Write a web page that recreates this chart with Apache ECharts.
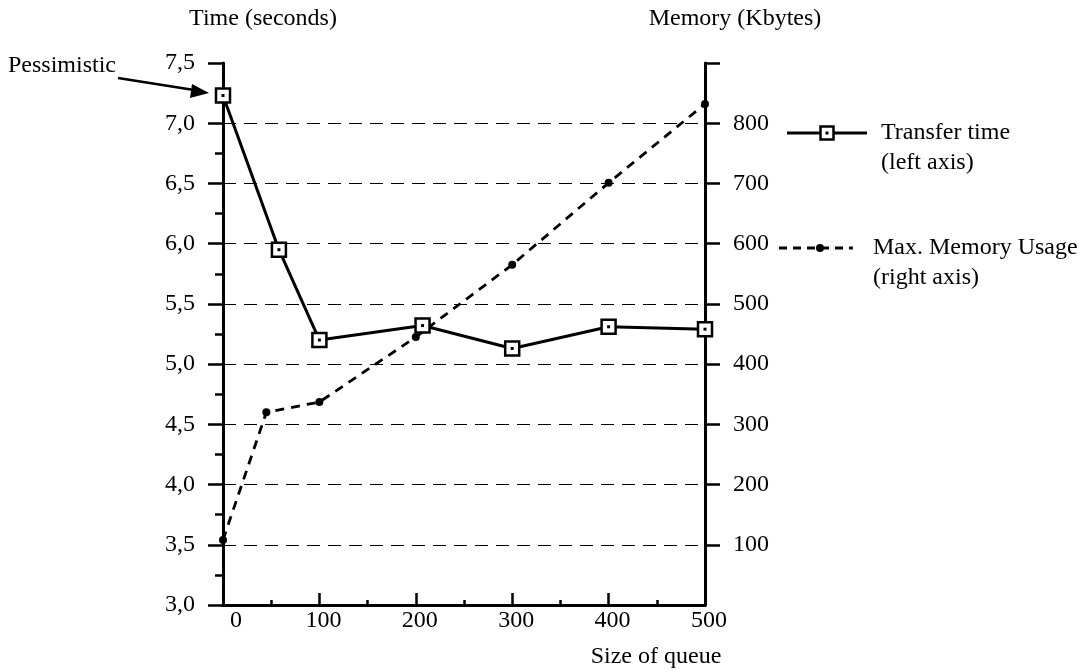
<!DOCTYPE html>
<html>
<head>
<meta charset="utf-8">
<script src="https://cdn.jsdelivr.net/npm/echarts@6.0.0/dist/echarts.min.js"></script>
<style>
	html,body{margin:0;padding:0;background:#fff;}
	#chart_main{width:1083px;height:672px;}
</style>
</head>
<body>
<div id="chart_main"></div>
<script>
	// data: [size of queue, value]
	var transferTime = [[0, 7.23], [58, 5.95], [100, 5.2], [207, 5.32], [300, 5.13], [400, 5.31], [500, 5.29]];
	var memoryUsage = [[0, 108], [45, 320], [100, 337], [200, 445], [300, 565], [400, 701], [500, 832]];
	var timeTicks = [3, 3.5, 4, 4.5, 5, 5.5, 6, 6.5, 7, 7.5];
	var memoryTicks = [100, 200, 300, 400, 500, 600, 700, 800, 900];
	var memoryLabels = [100, 200, 300, 400, 500, 600, 700, 800];

	var FONT = '"Liberation Serif", "Times New Roman", serif';
	var myChart = echarts.init(document.getElementById('chart_main'));

	var option = {
		animation: false,
		backgroundColor: '#fff',
		textStyle: {fontFamily: FONT, color: '#000'},
		grid: {
			left: 223,
			right: 378,
			top: 63,
			bottom: 67,
			outerBoundsMode: 'none'
		},
		xAxis: {
			type: 'value',
			min: 0,
			max: 500,
			interval: 100,
			name: 'Size of queue',
			nameLocation: 'middle',
			nameGap: 40,
			nameMoveOverlap: false,
			nameTextStyle: {
				fontFamily: FONT, fontSize: 24, color: '#000',
				padding: [0, 0, 0, 384]
			},
			axisLine: {lineStyle: {color: '#000', width: 3}},
			axisTick: {inside: true, length: 12, lineStyle: {color: '#000', width: 2.5}},
			minorTick: {show: true, splitNumber: 2, length: 5, lineStyle: {color: '#000', width: 2.5}},
			axisLabel: {
				margin: 4,
				fontFamily: FONT,
				fontSize: 24,
				color: '#000',
				padding: [0, 0, 0, 8],
				formatter: function (v) {
					return v === 0 ? '{z|0}' : String(v);
				},
				rich: {
					z: {fontFamily: FONT, fontSize: 24, color: '#000', padding: [0, 0, 0, 18]}
				}
			},
			splitLine: {show: false}
		},
		yAxis: [
			{
				type: 'value',
				position: 'left',
				min: timeTicks[0],
				max: timeTicks[timeTicks.length - 1],
				interval: 0.5,
				name: 'Time (seconds)',
				nameLocation: 'end',
				nameGap: 32,
				nameTextStyle: {
					fontFamily: FONT, fontSize: 24, color: '#000',
					align: 'center', padding: [0, 0, 0, 80]
				},
				axisLine: {show: true, lineStyle: {color: '#000', width: 3}},
				axisTick: {show: true, length: 15, lineStyle: {color: '#000', width: 2.5}},
				minorTick: {show: true, splitNumber: 2, length: 8, lineStyle: {color: '#000', width: 2.5}},
				axisLabel: {
					margin: 28,
					fontFamily: FONT,
					fontSize: 24,
					color: '#000',
					formatter: function (v) {
						return v.toFixed(1).replace('.', ',');
					}
				},
				splitLine: {
					show: true,
					showMinLine: false,
					showMaxLine: false,
					lineStyle: {color: '#000', width: 1, type: [13, 8]}
				}
			},
			{
				type: 'value',
				position: 'right',
				min: 0,
				max: 900,
				interval: 100,
				name: 'Memory (Kbytes)',
				nameLocation: 'end',
				nameGap: 32,
				nameTextStyle: {
					fontFamily: FONT, fontSize: 24, color: '#000',
					align: 'center', padding: [0, 0, 0, 60]
				},
				axisLine: {show: true, lineStyle: {color: '#000', width: 3}},
				axisTick: {show: true, length: 15, customValues: memoryTicks, lineStyle: {color: '#000', width: 2.5}},
				axisLabel: {
					margin: 28,
					fontFamily: FONT,
					fontSize: 24,
					color: '#000',
					customValues: memoryLabels
				},
				splitLine: {show: false}
			}
		],
		series: [
			{
				name: 'Max. Memory Usage',
				type: 'line',
				yAxisIndex: 1,
				data: memoryUsage,
				symbol: 'circle',
				symbolSize: 8,
				itemStyle: {color: '#000'},
				lineStyle: {color: '#000', width: 2.8, type: [9, 7]},
				z: 2
			},
			{
				name: 'Transfer time',
				type: 'line',
				yAxisIndex: 0,
				data: transferTime,
				symbol: 'rect',
				symbolSize: 14,
				itemStyle: {color: '#fff', borderColor: '#000', borderWidth: 2.5},
				lineStyle: {color: '#000', width: 3},
				z: 3
			},
			{
				// centre dot of the square markers
				name: 'Transfer time',
				type: 'line',
				yAxisIndex: 0,
				data: transferTime,
				symbol: 'rect',
				symbolSize: 3,
				itemStyle: {color: '#000'},
				lineStyle: {width: 0, opacity: 0},
				z: 4
			}
		],
		graphic: [
			// Pessimistic arrow
			{type: 'text', left: 8, top: 54, style: {text: 'Pessimistic', font: '24px ' + FONT, fill: '#000'}},
			{type: 'line', shape: {x1: 118, y1: 78, x2: 194, y2: 90}, style: {stroke: '#000', lineWidth: 2.5}},
			{type: 'polygon', shape: {points: [[209, 93], [192, 84], [190, 98]]}, style: {fill: '#000'}},
			// legend: transfer time
			{type: 'line', shape: {x1: 787, y1: 133, x2: 867, y2: 133}, style: {stroke: '#000', lineWidth: 3}},
			{type: 'rect', shape: {x: 820.5, y: 126.5, width: 13, height: 13}, style: {fill: '#fff', stroke: '#000', lineWidth: 2.5}},
			{type: 'rect', shape: {x: 825.5, y: 131.5, width: 3, height: 3}, style: {fill: '#000'}},
			{type: 'text', x: 881, y: 133, style: {text: 'Transfer time', font: '24px ' + FONT, fill: '#000', verticalAlign: 'middle'}},
			{type: 'text', x: 881, y: 163, style: {text: '(left axis)', font: '24px ' + FONT, fill: '#000', verticalAlign: 'middle'}},
			// legend: memory
			{type: 'line', shape: {x1: 779, y1: 248, x2: 853, y2: 248}, style: {stroke: '#000', lineWidth: 2.8, lineDash: [8, 6]}},
			{type: 'circle', shape: {cx: 820, cy: 248, r: 4}, style: {fill: '#000'}},
			{type: 'text', x: 873, y: 248, style: {text: 'Max. Memory Usage', font: '24px ' + FONT, fill: '#000', verticalAlign: 'middle'}},
			{type: 'text', x: 873, y: 278, style: {text: '(right axis)', font: '24px ' + FONT, fill: '#000', verticalAlign: 'middle'}}
		]
	};

	myChart.setOption(option);
</script>
</body>
</html>
